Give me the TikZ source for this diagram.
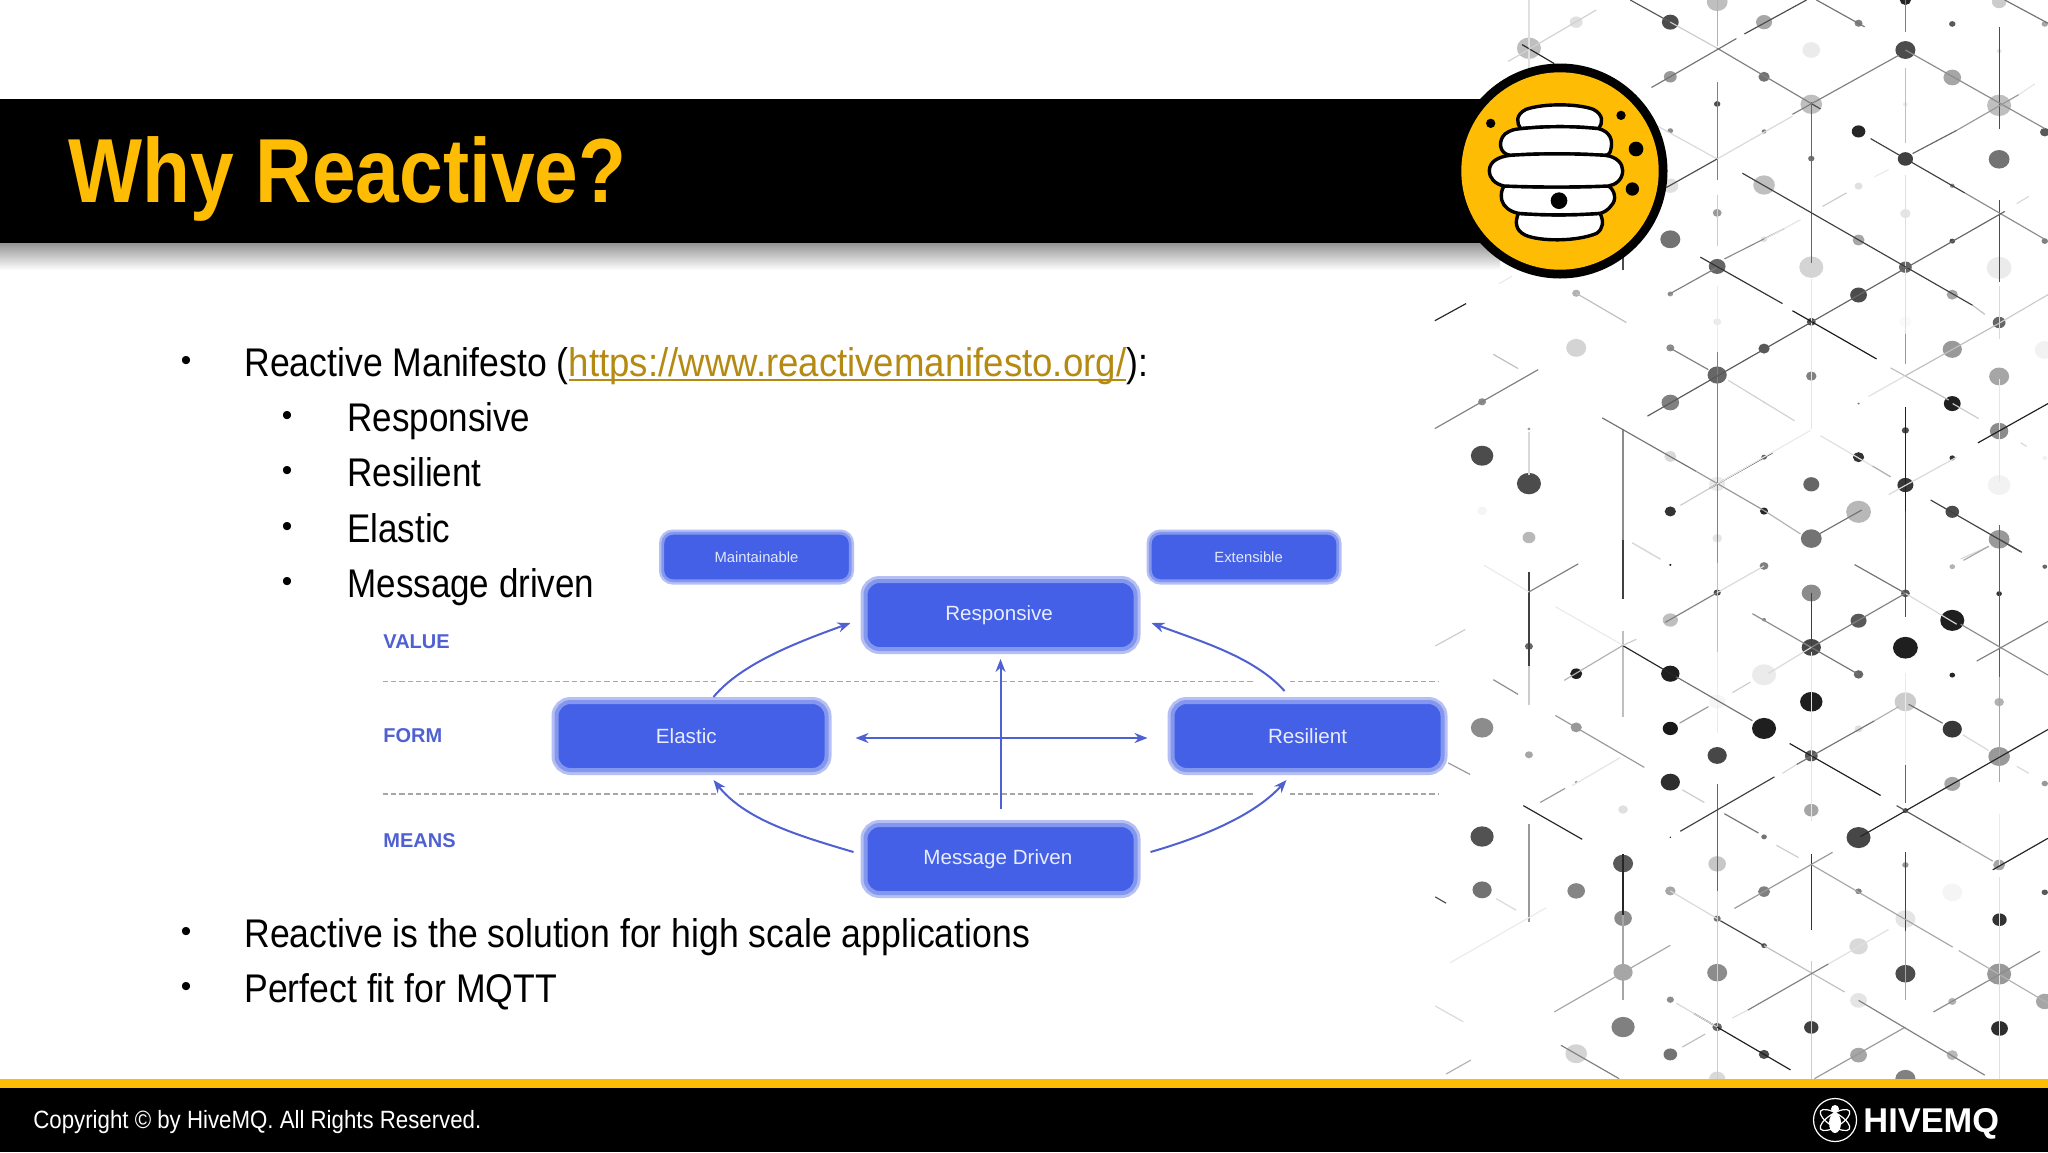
\documentclass[tikz,border=0pt]{standalone}
\usepackage{fontspec}
\usetikzlibrary{arrows.meta,calc}
\setmainfont{Liberation Sans}
\newfontfamily\bodyf[FakeStretch=0.89]{Liberation Sans}
\newfontfamily\subf[FakeStretch=0.875]{Liberation Sans}
\newfontfamily\linkf[FakeStretch=0.915]{Liberation Sans}
\newfontfamily\titlef[FakeStretch=0.862]{Liberation Sans}
\definecolor{hiveyellow}{HTML}{FFBC05}
\definecolor{boxblue}{HTML}{4360E6}
\definecolor{boxhalo}{HTML}{B5BFF4}
\definecolor{boxmid}{HTML}{8497EE}
\definecolor{arrowblue}{HTML}{4F60D2}
\definecolor{linkgold}{HTML}{B58A12}
\newcommand{\linkul}[1]{\setbox0\hbox{#1}\rlap{\rule[-2.4pt]{\wd0}{.75pt}}\box0}
\tikzset{
  bigbox/.style={draw=boxmid,fill=boxblue,line width=2pt,preaction={draw=boxhalo,line width=5pt},rounded corners=7pt,minimum width=135pt,minimum height=34pt,inner sep=0pt,outer sep=2.5pt,text=white!88!boxblue,font=\fontsize{10.3}{12}\selectfont},
  smallbox/.style={draw=boxmid,fill=boxblue,line width=1.4pt,preaction={draw=boxhalo,line width=3.8pt},rounded corners=5pt,minimum width=93.7pt,minimum height=23.7pt,inner sep=0pt,outer sep=1.9pt,text=white!85!boxblue,font=\fontsize{7.4}{9}\selectfont},
  rowlabel/.style={anchor=west,inner sep=0pt,text=arrowblue,font=\bfseries\fontsize{10}{12}\selectfont},
  bodytext/.style={anchor=base west,inner sep=0pt,font=\bodyf\fontsize{20}{24}\selectfont},
  subtext/.style={anchor=base west,inner sep=0pt,font=\subf\fontsize{20}{24}\selectfont},
  bulletmark/.style={anchor=base,inner sep=0pt,font=\fontsize{15}{17}\selectfont},
  flow/.style={draw=arrowblue,line width=1pt,-{Stealth[length=6.5pt,width=5pt]}},
  rowrule/.style={draw=black!35,line width=.8pt,dash pattern=on 2.6pt off 1.5pt},
  comb/.style={draw=black,fill=white,line width=1.7pt,line join=round}
}
\begin{document}
\begin{tikzpicture}[x=0.5pt,y=-0.5pt]
\useasboundingbox (0,0) rectangle (2048,1152);
\fill[white] (0,0) rectangle (2048,1152);
% background lattice, upper part
\begin{scope}
\clip (1420,0) rectangle (2048,1082);
\begin{scope}[shift={(1420,0)},x=0.20024pt,y=-0.17857pt]
\foreach \x/\y/\r/\g in {625/62/21/70,859/62/20/35,742/5/26/25,1095/65/10/50,1212/0/14/85,1329/67/8/65,1446/5/18/20,1560/67/8/35,
390/62/16/12,272/135/30/25,625/215/16/40,859/215/14/55,977/140/22/8,1212/140/25/70,1446/143/6/10,1329/217/22/35,
742/291/8/70,977/292/27/25,1212/292/6/8,1446/295/30/25,625/366/7/45,859/368/6/50,1095/368/17/85,1560/370/12/65,
977/444/8/55,1212/445/19/75,1446/446/26/55,859/518/27/25,1095/521/10/12,1329/520/6/45,625/520/20/12,
742/596/11/40,1212/598/13/10,625/670/25/55,859/670/8/12,1095/672/15/35,1329/675/7/70,1560/675/8/50,
742/746/21/60,977/748/30/17,1212/748/16/60,1446/750/31/8,390/821/10/30,625/823/7/40,1095/826/21/70,1329/825/14/35,
742/901/10/8,977/901/11/70,1212/901/15/2,1446/903/16/60,390/974/25/17,625/974/10/45,859/976/14/65,1329/978/24/40,1560/980/25/5,
742/1050/24/60,977/1053/13/50,1446/1054/25/35,625/1127/22/50,155/1125/10/45,859/1127/2/30,1095/1130/3/50,1329/1130/21/88,
272/1201/4/40,1212/1205/9/70,1446/1207/23/45,625/1278/15/15,859/1280/7/60,1095/1280/14/80,1329/1282/7/80,1560/1282/6/5,
155/1276/28/70,272/1354/30/70,742/1355/20/8,977/1356/20/60,1212/1358/20/78,1446/1358/28/5,
155/1430/12/4,625/1432/14/80,859/1431/10/85,1095/1433/31/28,1329/1433/17/70,272/1505/16/28,742/1507/12/10,977/1508/26/55,1446/1510/26/40}
  \fill[black!\g] (\x,\y) circle[radius=\r];
\foreach \a/\b/\c/\d/\g in {272/0/272/200/12,742/0/742/130/30,742/230/742/505/50,742/545/742/690/20,977/285/977/735/60,1212/0/1212/90/50,1212/190/1212/400/25,1212/490/1212/1000/12,1446/75/1446/360/70,1446/560/1446/790/70,1446/800/1446/950/15,742/800/742/1000/8,742/985/742/1568/50,977/780/977/1200/10,1212/935/1212/1020/40,1212/1140/1212/1430/88,1446/1060/1446/1350/10,507/1200/507/1568/45,272/1210/272/1330/15,1446/1470/1446/1568/60,1212/1430/1212/1568/75,507/690/507/755/70,
255/125/335/178/85,525/0/625/62/65,625/62/742/135/20,742/135/977/290/50,977/290/1000/305/70,990/0/1110/75/55,1460/0/1568/65/55,1212/140/1560/360/45,580/345/742/445/15,805/485/1380/855/75,1380/855/1410/880/25,1125/388/1360/540/75,1360/540/1560/670/45,700/720/905/850/80,930/870/1140/1005/90,390/821/515/903/25,183/992/245/1032/25,455/1170/690/1320/55,690/1320/860/1430/40,860/1430/950/1495/30,625/975/720/1035/50,770/1065/935/1178/18,1175/1030/1320/1120/25,1330/1130/1395/1172/20,1000/1220/1175/1335/12,1130/1305/1175/1335/30,1275/1400/1500/1545/75,530/1520/600/1565/15,1500/1240/1515/1250/15,
220/172/440/28/18,578/245/790/108/55,810/95/965/0/70,930/320/1195/155/50,615/525/742/445/70,742/445/930/325/15,1230/430/1340/365/60,1340/365/1495/265/40,1495/265/1535/235/10,1005/578/1065/540/20,1135/495/1170/475/8,1490/570/1520/550/15,760/725/910/640/45,860/670/950/615/10,620/825/740/750/50,980/900/1460/592/60,568/1165/980/900/65,1120/1110/1212/1052/12,1212/1052/1446/905/25,1446/905/1568/825/20,1393/1240/1568/1130/88,37/898/115/850/85,37/1200/295/1035/50,197/795/230/773/8,722/1368/880/1268/75,650/1415/742/1355/20,742/1355/975/1205/8,1170/1385/1340/1280/15,970/1512/1103/1428/55,1350/1565/1420/1530/15}
  \draw[black!\g,line width=.58pt] (\a,\b) -- (\c,\d);
\end{scope}
% background lattice, lower part
\begin{scope}[shift={(1420,540)},x=0.20024pt,y=-0.17544pt]
\foreach \x/\y/\r/\g in {625/71/3/90,859/74/11/50,1329/76/7/30,1560/76/6/60,
742/150/9/70,977/151/24/45,1212/152/11/65,1446/153/7/80,
625/228/19/25,859/227/5/45,1095/230/20/65,1329/229/30/88,
272/303/10/60,977/306/24/72,1212/307/31/88,
390/381/15/88,625/381/23/88,859/384/30/8,1095/383/12/60,1329/385/7/85,
977/461/28/88,1212/461/27/20,1446/462/12/30,742/461/20/4,
155/535/28/45,390/534/14/40,625/537/19/90,859/537/30/88,1095/538/10/12,1329/539/24/78,
272/612/10/35,742/614/24/72,977/615/16/65,1446/617/27/40,
390/690/4/40,625/690/24/82,1329/695/20/35,1560/694/8/40,
507/768/12/12,977/770/18/35,1212/771/7/70,
155/845/29/68,625/847/2/90,859/846/7/55,1095/848/30/72,
507/922/25/65,742/923/22/22,1212/926/8/40,1446/926/15/35,
155/997/24/55,390/1000/22/48,625/1000/13/35,859/1002/15/50,1095/1001/8/50,1329/1004/25/4,1560/1004/8/65,
507/1078/22/45,742/1079/9/55,1212/1080/25/10,1447/1082/18/80,
859/1156/7/65,1095/1158/23/15,
507/1232/24/35,742/1233/25/45,1212/1236/25/70,1446/1237/30/40,
625/1310/9/45,1095/1312/21/10,1329/1315/10/30,1560/1315/22/35,
507/1388/29/50,742/1388/12/60,977/1389/18/75,1447/1392/21/82,
390/1464/27/17,625/1466/17/55,859/1466/13/70,1095/1468/21/35,1329/1468/14/28,
742/1535/20/15,1212/1535/25/50}
  \fill[black!\g] (\x,\y) circle[radius=\r];
\foreach \a/\b/\c/\d/\g in {272/90/272/358/75,272/360/272/470/20,507/0/507/168/75,507/258/507/505/25,742/0/742/65/45,742/65/742/320/25,742/320/742/550/8,742/695/742/1000/60,742/1000/742/1535/20,977/150/977/310/75,977/320/977/800/10,977/895/977/1110/80,977/1200/977/1535/20,1212/0/1212/220/70,1212/380/1212/640/8,1212/640/1212/750/60,1212/890/1212/1115/75,1212/1115/1212/1310/35,1447/0/1447/390/65,1447/390/1447/690/35,1447/780/1447/930/8,272/810/272/1090/40,507/895/507/1070/85,507/1070/507/1310/35,1447/960/1447/1535/12,
530/8/600/55/15,160/72/272/148/8,272/148/395/68/50,742/150/612/235/50,742/150/859/74/15,1085/70/1212/152/55,1212/152/1340/240/15,1350/240/1568/385/45,1390/345/1568/232/50,830/210/977/306/45,977/306/1095/383/55,1212/152/977/306/50,977/306/870/380/15,825/405/780/435/20,505/300/640/390/85,640/390/830/515/55,338/190/507/300/8,360/400/507/300/30,507/300/540/283/20,183/398/245/440/45,38/302/113/255/20,648/522/720/475/40,338/500/560/648/40,923/580/1150/728/88,940/640/1135/515/55,1135/515/1195/475/30,1220/468/1305/522/55,1355/555/1420/600/15,1100/845/1568/540/85,1190/757/1350/862/65,1350/862/1430/915/35,1430/940/1568/850/85,650/830/885/675/75,905/665/940/640/15,655/712/710/748/20,760/780/845/835/55,890/870/945/905/20,258/757/405/853/85,300/748/362/708/40,380/700/500/620/10,70/635/125/668/40,1490/645/1520/665/15,785/1050/1030/890/40,977/925/1330/1160/35,1345/1170/1568/1320/30,1357/58/1420/18/35,1450/0/1503/35/70,75/1205/315/1048/8,38/1017/65/1035/70,190/1022/240/1055/15,625/1000/742/1079/15,750/1085/859/1156/75,859/1156/1060/1288/25,335/1345/625/1155/35,818/1340/1020/1208/50,780/1362/818/1340/12,1020/1208/1170/1110/12,1282/1345/1548/1172/45,38/1328/108/1373/15,685/1350/925/1510/88,640/1320/742/1388/15,655/1445/712/1408/25,352/1440/497/1535/50,65/1522/127/1482/30,985/1535/1212/1388/40,1095/1312/1410/1525/50}
  \draw[black!\g,line width=.58pt] (\a,\b) -- (\c,\d);
\end{scope}
\end{scope}
% title band
\shade[top color=black!42,bottom color=white] (0,243) rectangle (1500,270);
\fill[black] (0,99) rectangle (1500,243);
\node[anchor=base west,inner sep=0pt,text=hiveyellow,font=\titlef\bfseries\fontsize{45.5}{50}\selectfont] (title) at (68,202) {Why Reactive?};
% hive badge
\fill[black] (1560,171) circle[radius=107.5];
\fill[hiveyellow] (1560,171) circle[radius=98.7];
\begin{scope}[shift={(1400,40)},x=0.16667pt,y=-0.16667pt]
\draw[comb] (362,266) .. controls (350,250) and (345,225) .. (378,208) .. controls (430,190) and (530,190) .. (580,208) .. controls (612,225) and (608,250) .. (596,266) .. controls (520,258) and (440,258) .. cycle;
\draw[comb] (355,520) .. controls (430,526) and (520,526) .. (600,520) .. controls (612,545) and (610,565) .. (590,580) .. controls (530,605) and (420,605) .. (375,585) .. controls (345,570) and (345,545) .. cycle;
\draw[comb] (330,346) .. controls (295,340) and (295,300) .. (315,282) .. controls (335,268) and (345,268) .. (362,266) .. controls (440,258) and (520,258) .. (596,266) .. controls (630,275) and (640,300) .. (632,330) .. controls (630,340) and (625,345) .. (615,346) .. controls (520,340) and (420,340) .. cycle;
\draw[comb] (312,438) .. controls (420,442) and (520,442) .. (625,438) .. controls (645,450) and (650,480) .. (635,495) .. controls (625,510) and (610,518) .. (600,520) .. controls (520,526) and (430,526) .. (355,520) .. controls (330,515) and (310,500) .. (305,480) .. controls (302,460) and (305,450) .. cycle;
\draw[comb] (330,346) .. controls (420,340) and (520,340) .. (615,346) .. controls (650,350) and (668,370) .. (668,392) .. controls (668,420) and (645,435) .. (625,438) .. controls (520,442) and (420,442) .. (312,438) .. controls (285,432) and (268,415) .. (268,392) .. controls (268,365) and (295,350) .. cycle;
\fill[black] (477,482) circle[radius=25];
\fill[black] (272,250) circle[radius=14];
\fill[black] (663,226) circle[radius=14];
\fill[black] (708,327) circle[radius=22];
\fill[black] (697,447) circle[radius=20];
\end{scope}
% bullets
\foreach \n/\bx/\by in {a/186/370,b/287/425,c/287/480,d/287/536,e/287/591,f/186/941,g/186/996}
  \node[bulletmark] (mark\n) at (\bx,\by) {•};
\node[bodytext] (line1) at (244,376) {Reactive Manifesto ({\linkf\color{linkgold}\linkul{https://www.reactivemanifesto.org/}}):};
\node[subtext] (line2) at (347,431) {Responsive};
\node[subtext] (line3) at (347,486) {Resilient};
\node[subtext] (line4) at (347,542) {Elastic};
\node[subtext] (line5) at (347,597) {Message driven};
\node[bodytext] (line6) at (244,947) {Reactive is the solution for high scale applications};
\node[bodytext] (line7) at (244,1002) {Perfect fit for MQTT};
% reactive diagram
\coordinate (ruleAa) at (383,681.5); \coordinate (ruleAb) at (718,681.5);
\coordinate (ruleAc) at (739,681.5); \coordinate (ruleAd) at (1255,681.5);
\coordinate (ruleAe) at (1290,681.5); \coordinate (ruleAf) at (1439,681.5);
\coordinate (ruleBa) at (383,794); \coordinate (ruleBb) at (718,794);
\coordinate (ruleBc) at (739,794); \coordinate (ruleBd) at (1255,794);
\coordinate (ruleBe) at (1290,794); \coordinate (ruleBf) at (1439,794);
\draw[rowrule] (ruleAa) -- (ruleAb); \draw[rowrule] (ruleAc) -- (ruleAd); \draw[rowrule] (ruleAe) -- (ruleAf);
\draw[rowrule] (ruleBa) -- (ruleBb); \draw[rowrule] (ruleBc) -- (ruleBd); \draw[rowrule] (ruleBe) -- (ruleBf);
\node[rowlabel] (value) at (383,641.5) {VALUE};
\node[rowlabel] (form) at (383,735.5) {FORM};
\node[rowlabel] (means) at (383,841) {MEANS};
\node[smallbox] (maint) at (756.5,557) {Maintainable};
\node[smallbox] (ext) at (1244,557) {\hspace*{4.6pt}Extensible};
\node[bigbox] (resp) at (1000.5,615) {Responsive\hspace*{1.4pt}};
\node[bigbox] (el) at (691.5,736) {Elastic\hspace*{5.2pt}};
\node[bigbox] (res) at (1307.5,736) {Resilient};
\node[bigbox] (md) at (1000.5,859) {Message Driven\hspace*{2.6pt}};
\draw[flow,shorten <=5.5pt,shorten >=2.5pt] (md.north) -- (resp.south);
\draw[flow,{Stealth[length=6.5pt,width=5pt]}-{Stealth[length=6.5pt,width=5pt]},line width=1.2pt,shorten <=12pt,shorten >=10pt] (el.east |- 0,738) -- (res.west |- 0,738);
\draw[flow] ($(el.north)+(22,0)$) .. controls +(28,-34) and +(-50,18) .. ($(resp.west)+(-10,8)$);
\draw[flow] ($(res.north)+(-23,-6)$) .. controls +(-30,-34) and +(48,18) .. ($(resp.east)+(11,8)$);
\draw[flow] ($(md.west)+(-7,-7)$) .. controls +(-58,-17) and +(31,39) .. ($(el.south)+(22,5)$);
\draw[flow] ($(md.east)+(10,-7)$) .. controls +(59,-17) and +(-30,33) .. ($(res.south)+(-21,5)$);
% footer
\fill[hiveyellow] (0,1079) rectangle (2048,1088);
\fill[black] (0,1088) rectangle (2048,1152);
\node[anchor=base west,inner sep=0pt,text=white,font=\bodyf\fontsize{12.5}{15}\selectfont] (copy) at (33,1128) {Copyright © by HiveMQ. All Rights Reserved.};
\node[circle,draw=white,line width=.6pt,minimum size=21.5pt,inner sep=0pt] (logo) at (1835,1120) {};
\begin{scope}[shift={(1835,1120)}]
\draw[white,line width=.6pt,rotate=32] (0,0) ellipse[x radius=17,y radius=6.5];
\draw[white,line width=.6pt,rotate=-32] (0,0) ellipse[x radius=17,y radius=6.5];
\fill[white] (0,3) ellipse[x radius=6,y radius=10];
\fill[white] (0,-11) circle[radius=4];
\end{scope}
\node[anchor=base west,inner sep=0pt,text=white,font=\bfseries\fontsize{17.2}{19}\selectfont] (brand) at (1863,1132) {HIVEMQ};
\end{tikzpicture}
\end{document}
